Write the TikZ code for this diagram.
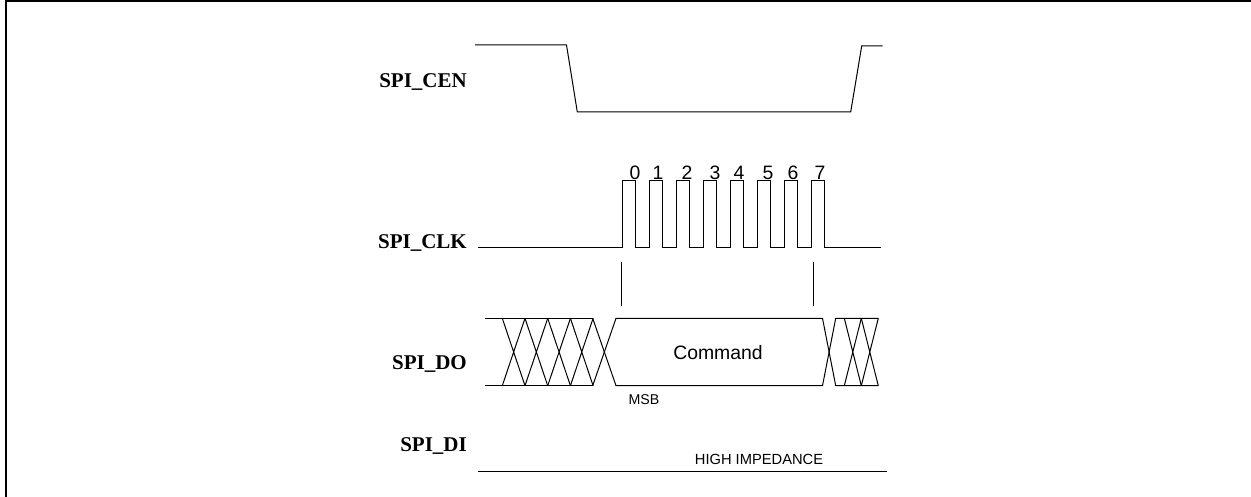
\documentclass[tikz,border=0pt]{standalone}
\usepackage{fontspec}
\setmainfont{Liberation Serif}
\setsansfont{Liberation Sans}
\usetikzlibrary{positioning}

\begin{document}
\begin{tikzpicture}[
      x=1pt, y=-1pt,
      sig/.style={line width=1pt, line join=miter},
      frame/.style={line width=2pt},
      sname/.style={font=\fontsize{21}{23}\selectfont\bfseries, anchor=base east, inner sep=0pt},
      bitnum/.style={font=\sffamily\fontsize{19.4}{21}\selectfont, anchor=base, inner sep=0pt},
      small/.style={font=\sffamily\fontsize{14.2}{16}\selectfont, anchor=base, inner sep=0pt},
    ]
    \useasboundingbox (0,0) rectangle (1251,497);
    \draw[frame] (6,497) -- (6,1) -- (1251,1);

    % signal names
    \node[sname] (cen) at (467,87.3) {SPI\_CEN};
    \node[sname] (clk) at (467,249) {SPI\_CLK};
    \node[sname] (do)  at (467,369) {SPI\_DO};
    \node[sname] (di)  at (467,451.7) {SPI\_DI};

    % chip enable
    \draw[sig] (475,45) -- (566.5,45) -- (577.3,112) -- (850.7,112) -- (861.7,46) -- (882.7,46);

    % clock, eight pulses
    \draw[sig] (478,248) -- (622.5,248);
    \foreach \i in {0,...,7}
      \draw[sig] (622.5+27*\i,248) -- ++(0,-67.7) -- ++(13.4,0) -- ++(0,67.7) -- ++(13.6,0);
    \draw[sig] (838.5,248) -- (881,248);
    \foreach \n/\x in {0/635,1/658,2/687,3/715,4/739,5/768,6/793,7/820}
      \node[bitnum] (b\n) at (\x,179.3) {\n};

    % sampling marks
    \draw[sig] (621.5,262) -- (621.5,306);
    \draw[sig] (813.3,262) -- (813.3,306);

    % data out
    \draw[sig] (485,318.3) -- (592.7,318.3);
    \draw[sig] (485,385.7) -- (592.7,385.7);
    \foreach \a in {502.3,525,547.7,570.4}
      \draw[sig] (\a,318.3) -- (\a+22.7,385.7) (\a,385.7) -- (\a+22.7,318.3);
    \draw[sig] (592.7,385.7) -- (616,318.3) -- (822.5,318.3) -- (835.7,385.7) -- (878.3,385.7);
    \draw[sig] (592.7,318.3) -- (616,385.7) -- (822.5,385.7) -- (835.7,318.3) -- (878.3,318.3);
    \foreach \a in {844.3,861.3}
      \draw[sig] (\a,318.3) -- (\a+17,385.7) (\a,385.7) -- (\a+17,318.3);
    \node[bitnum] (cmd) at (718,359) {Command};
    \node[small] (msb) at (644,404.3) {MSB};

    % data in
    \draw[sig] (478,471) -- (887,471);
    \node[small, font=\sffamily\fontsize{14.7}{16}\selectfont] (hiz) at (759,464.3) {HIGH IMPEDANCE};
  \end{tikzpicture}
\end{document}
